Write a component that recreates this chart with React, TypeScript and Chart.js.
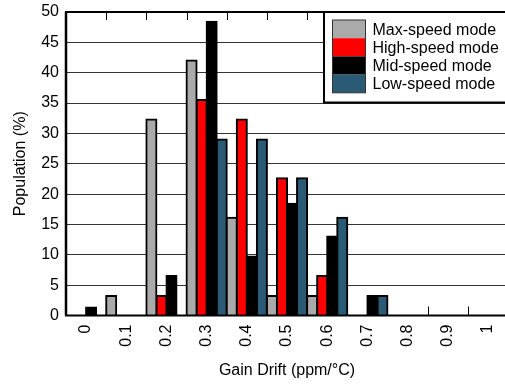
import React, { useEffect, useRef } from "react";
import { Chart, registerables } from "chart.js";

Chart.register(...registerables);

const categories = ["0", "0.1", "0.2", "0.3", "0.4", "0.5", "0.6", "0.7", "0.8", "0.9", "1"];
const maxSpeed = [0, 3.2, 32.3, 42.0, 16.1, 3.2, 3.2, 0, 0, 0, 0];
const highSpeed = [0, 0, 3.2, 35.5, 32.3, 22.6, 6.5, 0, 0, 0, 0];
const midSpeed = [1.3, 0, 6.5, 48.4, 9.7, 18.4, 13.0, 3.2, 0, 0, 0];
const lowSpeed = [0, 0, 0, 29.0, 29.0, 22.6, 16.1, 3.2, 0, 0, 0];
const seriesLabels = ["Max-speed mode", "High-speed mode", "Mid-speed mode", "Low-speed mode"];
const seriesColors = ["#aaaaaa", "#ff0000", "#000000", "#2b5a74"];
const yTicks = [0, 5, 10, 15, 20, 25, 30, 35, 40, 45, 50];

const FONT = "'Liberation Sans', Arial, sans-serif";

const framePlugin = {
  id: "frameAndTicks",
  beforeDatasetsDraw(chart: any) {
    const { ctx, chartArea } = chart;
    const n = categories.length;
    const cw = (chartArea.right - chartArea.left) / n;
    ctx.save();
    ctx.strokeStyle = "#000";
    ctx.lineWidth = 1;
    for (let k = 1; k < n; k++) {
      const x = Math.round(chartArea.left + k * cw) + 0.5;
      ctx.beginPath();
      ctx.moveTo(x, chartArea.top);
      ctx.lineTo(x, chartArea.top + 8);
      ctx.moveTo(x, chartArea.bottom);
      ctx.lineTo(x, chartArea.bottom - 9);
      ctx.stroke();
    }
    ctx.restore();
  },
  afterDatasetsDraw(chart: any) {
    const { ctx, chartArea } = chart;
    ctx.save();
    ctx.strokeStyle = "#000";
    ctx.lineWidth = 2.5;
    ctx.beginPath();
    ctx.moveTo(chartArea.left, chartArea.top);
    ctx.lineTo(chartArea.left, chartArea.bottom);
    ctx.stroke();
    ctx.lineWidth = 2;
    ctx.beginPath();
    ctx.moveTo(chartArea.left - 1, chartArea.top);
    ctx.lineTo(chartArea.right + 2, chartArea.top);
    ctx.moveTo(chartArea.left - 1, chartArea.bottom);
    ctx.lineTo(chartArea.right + 2, chartArea.bottom);
    ctx.stroke();

    // legend box
    const lx = 324;
    const ly = chartArea.top;
    const lw = 200;
    const lh = 90.5;
    ctx.fillStyle = "#fff";
    ctx.fillRect(lx, ly, lw, lh);
    ctx.lineWidth = 2;
    ctx.strokeRect(lx, ly, lw, lh);
    const rowH = 18.2;
    const sx = 332;
    const sy = ly + 8;
    ctx.font = `16px ${FONT}`;
    ctx.textBaseline = "middle";
    ctx.textAlign = "left";
    chart.data.datasets.forEach((ds: any, i: number) => {
      ctx.fillStyle = ds.backgroundColor;
      ctx.fillRect(sx, sy + i * rowH, 33, rowH);
      ctx.fillStyle = "#000";
      ctx.fillText(ds.label, 372.5, sy + i * rowH + rowH / 2 + 1);
    });
    ctx.lineWidth = 1;
    ctx.strokeStyle = "#333";
    ctx.strokeRect(sx + 0.5, sy, 33, rowH * 4);
    ctx.restore();
  },
};

export default function App() {
  const ref = useRef<HTMLCanvasElement>(null);
  useEffect(() => {
    document.body.style.margin = "0";
    const data = [maxSpeed, highSpeed, midSpeed, lowSpeed];
    const chart = new Chart(ref.current as HTMLCanvasElement, {
      type: "bar",
      data: {
        labels: categories,
        datasets: data.map((d, i) => ({
          label: seriesLabels[i],
          data: d,
          backgroundColor: seriesColors[i],
          borderColor: "#000",
          borderWidth: 2,
          inflateAmount: 1,
          categoryPercentage: 1,
          barPercentage: 1,
        })),
      },
      options: {
        responsive: false,
        animation: false,
        devicePixelRatio: 1,
        layout: { padding: { top: 12, right: 0, left: 0, bottom: 0 } },
        plugins: { legend: { display: false }, tooltip: { enabled: false } },
        scales: {
          x: {
            grid: { display: false, drawTicks: false },
            border: { display: false },
            ticks: {
              minRotation: 90,
              maxRotation: 90,
              padding: 9,
              color: "#000",
              font: { family: FONT, size: 16 },
            },
            title: {
              display: true,
              text: "Gain Drift (ppm/°C)",
              color: "#000",
              font: { family: FONT, size: 16 },
              padding: { top: 0, bottom: 5 },
            },
            afterFit(scale: any) {
              scale.height = 69.5;
              scale.paddingLeft = 0;
              scale.paddingRight = 0;
            },
          },
          y: {
            min: 0,
            max: 50,
            afterBuildTicks(scale: any) {
              scale.ticks = yTicks.map((v) => ({ value: v }));
            },
            grid: { color: "#333", lineWidth: 1, drawTicks: false },
            border: { display: false },
            ticks: {
              padding: 7,
              color: "#000",
              font: { family: FONT, size: 16 },
            },
            title: {
              display: true,
              text: "Population (%)",
              color: "#000",
              font: { family: FONT, size: 16 },
              padding: { top: 11, bottom: 0 },
            },
            afterFit(scale: any) {
              scale.width = 66;
              scale.paddingTop = 0;
              scale.paddingBottom = 0;
            },
          },
        },
      },
      plugins: [framePlugin],
    });
    return () => chart.destroy();
  }, []);
  return (
    <div style={{ width: 505, height: 385, overflow: "hidden", background: "#fff" }}>
      <canvas ref={ref} width={508} height={385} style={{ display: "block" }} />
    </div>
  );
}
